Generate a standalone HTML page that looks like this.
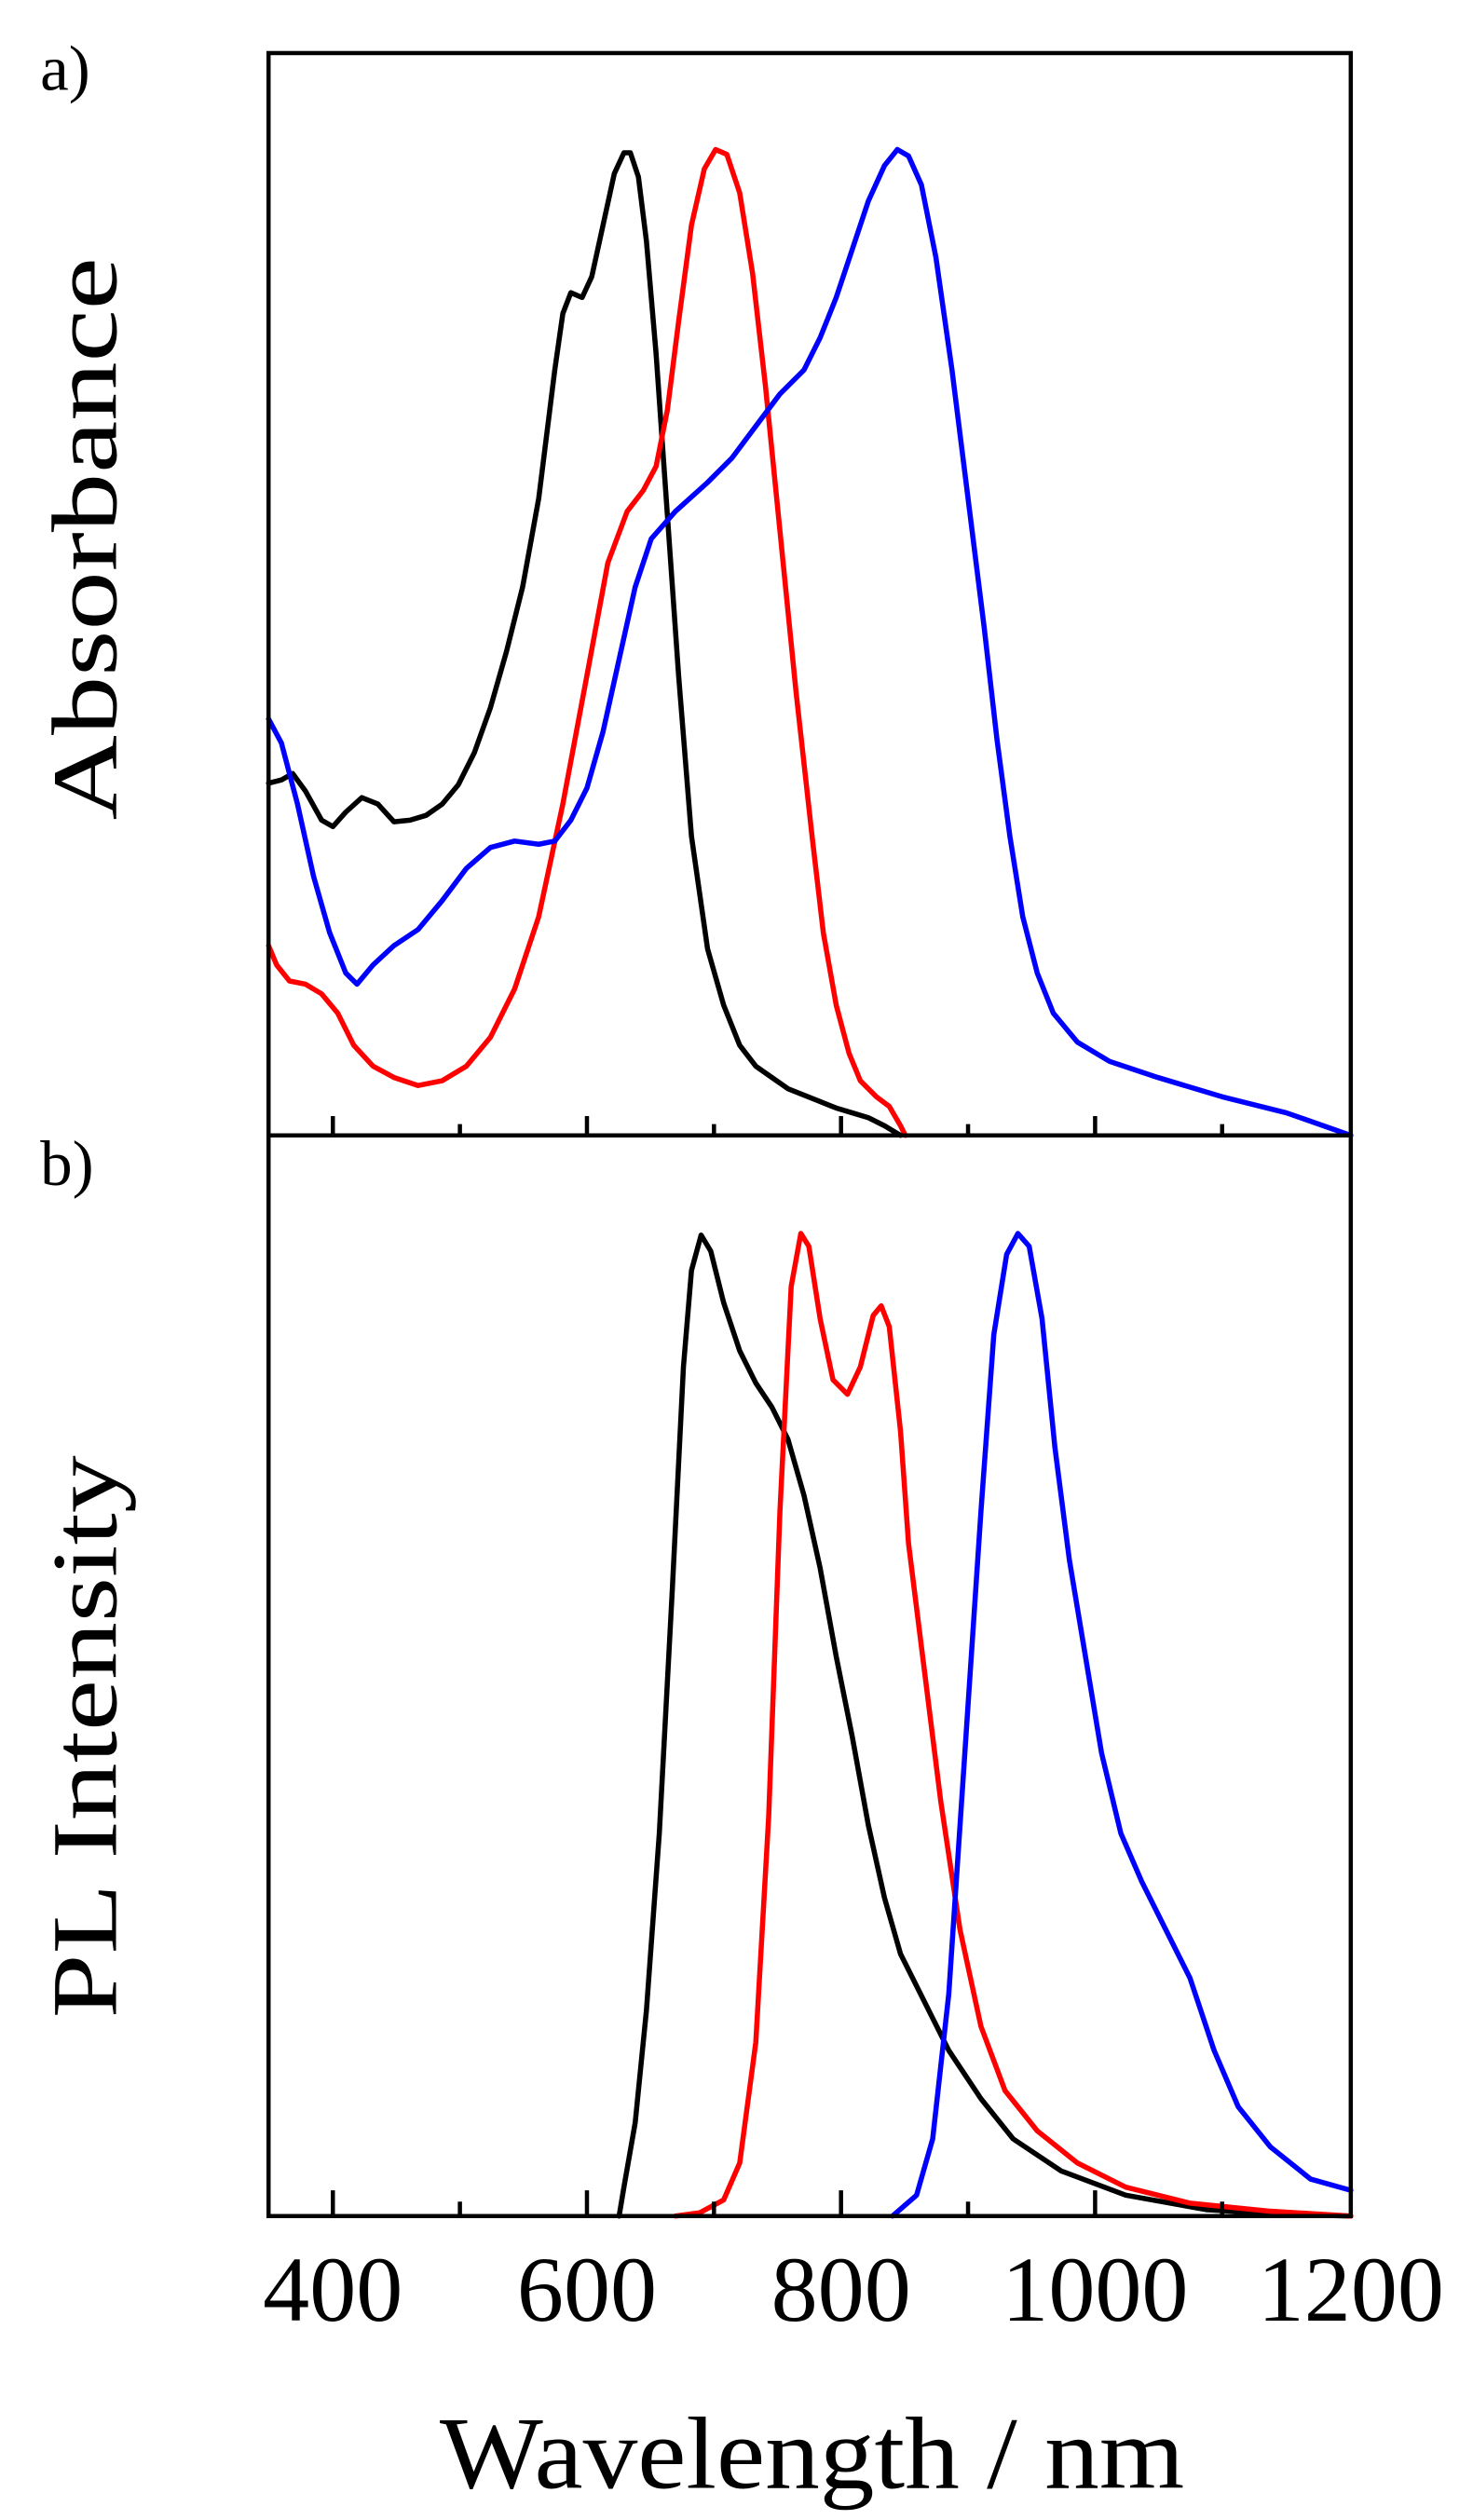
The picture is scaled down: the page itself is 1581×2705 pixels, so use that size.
<!DOCTYPE html>
<html><head><style>html,body{margin:0;padding:0;background:#fff}svg{display:block}</style></head>
<body>
<svg width="1581" height="2705" viewBox="0 0 916 1567" preserveAspectRatio="none" xmlns="http://www.w3.org/2000/svg" font-family="'Liberation Serif', serif">
<rect width="916" height="1567" fill="#fff"/>
<g fill="none" stroke-width="3.2" stroke-linejoin="round" stroke-linecap="round">
<polyline stroke="#000" points="167,487 175,485 182,481 190,492 200,510 207,514 215,505 225,496 235,500 245,511 255,510 265,507 275,500 285,488 295,468 305,440 315,405 325,365 335,310 345,230 350,195 355,182 362,185 368,172 375,140 382,108 388,95 392,95 397,110 402,150 408,220 415,320 422,420 430,520 440,590 450,625 460,650 470,663 480,670 490,677 500,681 510,685 520,689 530,692 540,695 550,700 560,706"/>
<polyline stroke="#f00" points="167,588 172,600 180,610 190,612 200,618 210,630 220,650 232,663 245,670 260,675 275,672 290,663 305,645 320,615 335,570 350,500 365,420 378,350 390,318 400,305 408,290 415,255 422,200 430,140 438,105 445,93 452,96 460,120 468,170 476,240 485,330 495,430 505,520 512,580 520,625 528,655 535,672 545,682 553,688 560,700 563,706"/>
<polyline stroke="#00f" points="167,447 175,462 185,500 195,545 205,580 215,605 222,612 232,600 245,588 260,578 275,560 290,540 305,527 320,523 335,525 345,523 355,510 365,490 375,455 385,410 395,365 405,335 420,318 440,300 455,285 470,265 485,245 500,230 510,210 520,185 530,155 540,125 550,103 558,93 565,97 573,115 582,160 592,230 602,310 612,390 620,460 628,520 636,570 645,605 655,630 670,648 690,660 720,670 760,682 800,692 840,706"/>
<polyline stroke="#000" points="385,1378 388,1360 395,1320 402,1250 410,1140 418,990 425,850 430,790 436,768 442,778 450,810 460,840 470,860 480,875 490,895 500,930 510,975 520,1030 530,1080 540,1135 550,1180 560,1215 575,1245 590,1275 610,1305 630,1330 660,1350 700,1365 750,1374 800,1377 840,1378"/>
<polyline stroke="#f00" points="420,1378 435,1376 450,1368 460,1345 470,1270 478,1130 485,940 492,800 498,767 503,775 510,820 518,858 527,867 535,850 543,818 548,812 553,825 560,890 565,960 575,1040 585,1120 597,1200 610,1260 625,1300 645,1325 670,1345 700,1360 740,1370 790,1375 840,1378"/>
<polyline stroke="#00f" points="555,1378 570,1365 580,1330 590,1240 600,1090 610,940 618,830 626,780 633,767 640,775 648,820 656,900 665,970 675,1030 685,1090 697,1140 710,1170 725,1200 740,1230 755,1275 770,1310 790,1335 815,1355 840,1362"/>
</g>
<g stroke="#000" stroke-width="2.6" fill="none">
<rect x="167" y="33" width="673" height="1345"/>
<line x1="167" y1="706" x2="840" y2="706"/>
<path d="M207,706v-12M286,706v-7M365,706v-12M444,706v-7M523,706v-12M602,706v-7M681,706v-12M760,706v-7"/>
<path d="M207,1378v-16M286,1378v-9M365,1378v-16M444,1378v-9M523,1378v-16M602,1378v-9M681,1378v-16M760,1378v-9"/>
</g>
<g font-size="58" text-anchor="middle" fill="#000">
<text x="207" y="1443">400</text><text x="365" y="1443">600</text><text x="523" y="1443">800</text><text x="681" y="1443">1000</text><text x="840" y="1443">1200</text>
</g>
<text x="505" y="1547" font-size="64" text-anchor="middle" textLength="463" lengthAdjust="spacingAndGlyphs">Wavelength / nm</text>
<text transform="translate(72,335) rotate(-90)" font-size="58" text-anchor="middle" textLength="350" lengthAdjust="spacingAndGlyphs">Absorbance</text>
<text transform="translate(72,1080) rotate(-90)" font-size="58" text-anchor="middle" textLength="350" lengthAdjust="spacingAndGlyphs">PL Intensity</text>
<text x="25" y="56" font-size="40">a)</text>
<text x="25" y="737" font-size="40">b)</text>
</svg>
</body></html>
